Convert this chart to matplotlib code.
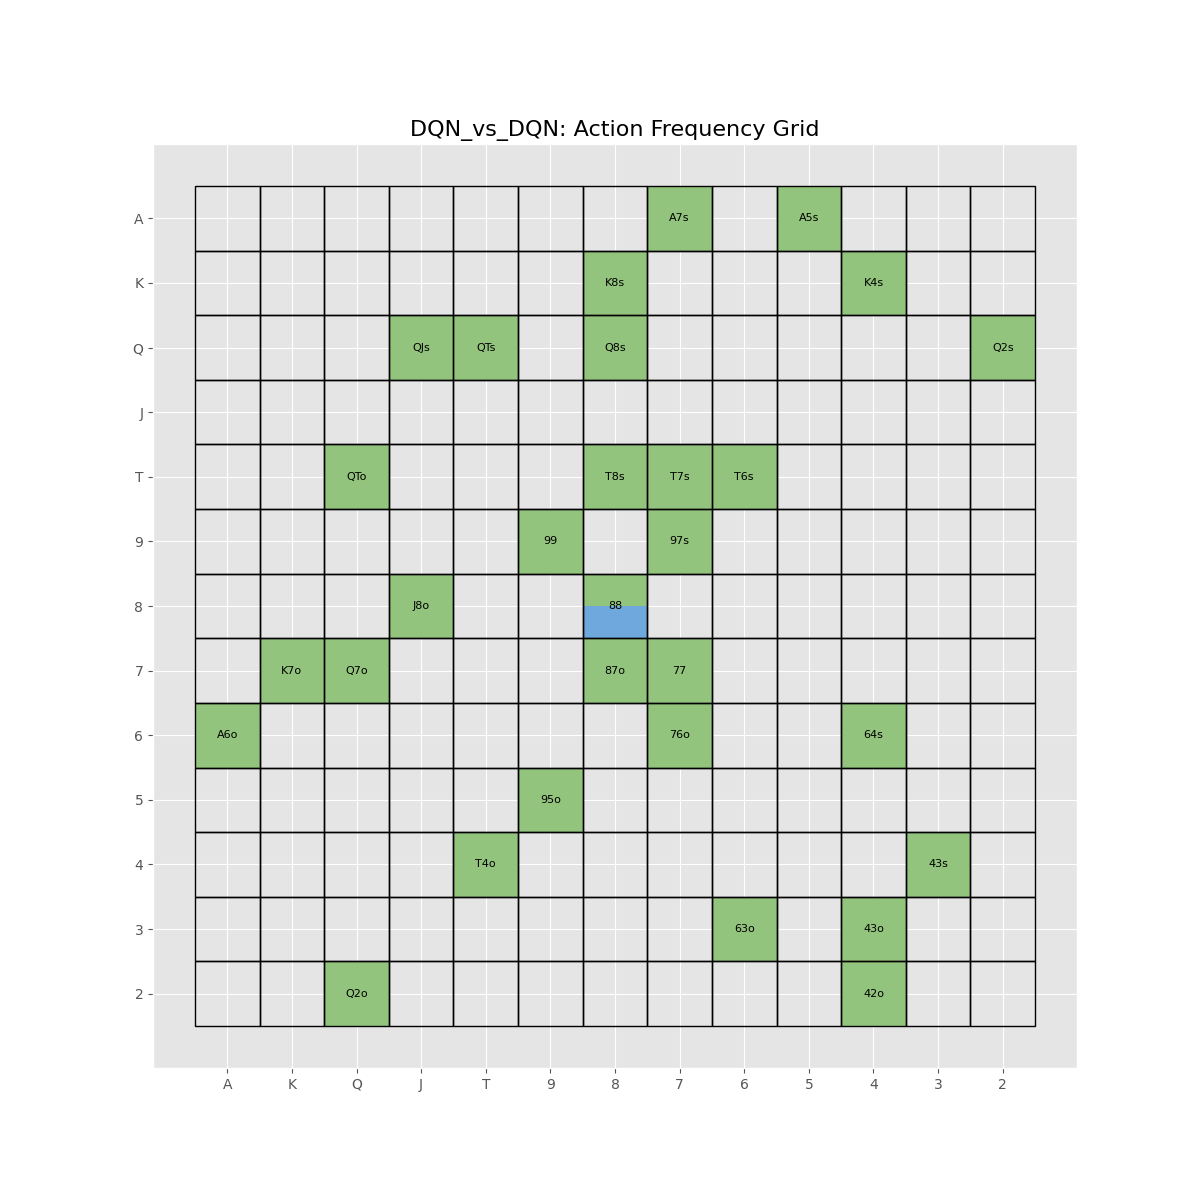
import matplotlib
matplotlib.use("Agg")
import matplotlib.pyplot as plt
from matplotlib.patches import Rectangle

ranks = ["A", "K", "Q", "J", "T", "9", "8", "7", "6", "5", "4", "3", "2"]

# hands with non-zero action frequencies: (label, row rank, col rank)
hand_labels = ["A7s", "A5s", "K8s", "K4s", "QJs", "QTs", "Q8s", "Q2s",
               "QTo", "T8s", "T7s", "T6s", "99", "97s", "J8o", "88",
               "K7o", "Q7o", "87o", "77", "A6o", "76o", "64s", "95o",
               "T4o", "43s", "63o", "43o", "Q2o", "42o"]
hand_rows = ["A", "A", "K", "K", "Q", "Q", "Q", "Q",
             "T", "T", "T", "T", "9", "9", "8", "8",
             "7", "7", "7", "7", "6", "6", "6", "5",
             "4", "4", "3", "3", "2", "2"]
hand_cols = ["7", "5", "8", "4", "J", "T", "8", "2",
             "Q", "8", "7", "6", "9", "7", "J", "8",
             "K", "Q", "8", "7", "A", "7", "4", "9",
             "T", "3", "6", "4", "Q", "4"]
# action frequencies
freq_green = [1, 1, 1, 1, 1, 1, 1, 1,
              1, 1, 1, 1, 1, 1, 1, 0.5,
              1, 1, 1, 1, 1, 1, 1, 1,
              1, 1, 1, 1, 1, 1]
freq_blue = [0, 0, 0, 0, 0, 0, 0, 0,
             0, 0, 0, 0, 0, 0, 0, 0.5,
             0, 0, 0, 0, 0, 0, 0, 0,
             0, 0, 0, 0, 0, 0]

action_colors = ["#93c47d", "#6fa8dc"]

plt.style.use("ggplot")
fig, ax = plt.subplots(figsize=(12, 12), dpi=100)

n = len(ranks)
for i in range(n):
    for j in range(n):
        ax.add_patch(Rectangle((j - 0.5, i - 0.5), 1, 1, fill=False,
                               edgecolor="black", linewidth=1, zorder=3))

for lab, r, c, g, b in zip(hand_labels, hand_rows, hand_cols, freq_green, freq_blue):
    i = ranks.index(r)
    j = ranks.index(c)
    start = i - 0.5
    for f, col in zip([g, b], action_colors):
        if f > 0:
            ax.add_patch(Rectangle((j - 0.5, start), 1, f, facecolor=col,
                                   edgecolor="none", zorder=2))
            start += f
    ax.text(j, i, lab, ha="center", va="center", fontsize=8, color="black", zorder=4)

ax.set_xticks(range(n))
ax.set_xticklabels(ranks)
ax.set_yticks(range(n))
ax.set_yticklabels(ranks)
ax.set_xlim(-1.15, n - 1 + 1.15)
ax.set_ylim(n - 1 + 1.15, -1.15)
ax.set_aspect("equal")
ax.set_title("DQN_vs_DQN: Action Frequency Grid", fontsize=16)

fig.savefig("out.png", dpi=100)
